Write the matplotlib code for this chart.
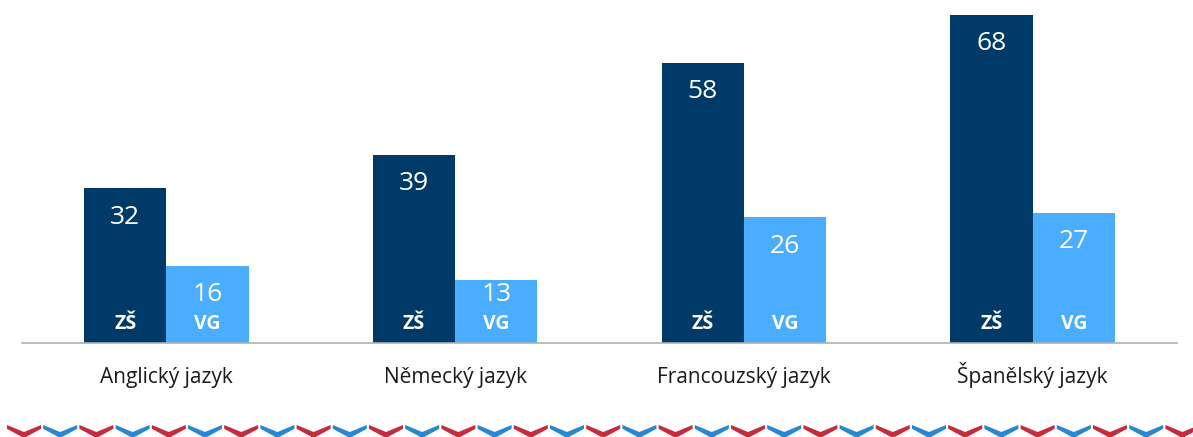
import matplotlib.pyplot as plt
import numpy as np
from matplotlib.patches import Polygon

plt.rcParams['font.family'] = ['Open Sans', 'DejaVu Sans']

categories = ['Anglický jazyk', 'Německý jazyk', 'Francouzský jazyk', 'Španělský jazyk']
zs_values = [32, 39, 58, 68]
vg_values = [16, 13, 26, 27]
series_labels = ['ZŠ', 'VG']

dark_blue = '#003A69'
light_blue = '#4AADFF'

W, H = 1193, 437
fig = plt.figure(figsize=(W / 100, H / 100), dpi=100)
ax = fig.add_axes([22 / W, (H - 343) / H, 1155 / W, 338 / H])

x = np.arange(len(categories))
bw = 0.285
bars_zs = ax.bar(x - bw / 2, zs_values, width=bw, color=dark_blue)
bars_vg = ax.bar(x + bw / 2, vg_values, width=bw, color=light_blue)

ax.set_xlim(-0.5, 3.5)
ax.set_ylim(0, 70)

# value labels near top of each bar (kept clear of the series name), series name near the base
for bars, vals, name in [(bars_zs, zs_values, series_labels[0]), (bars_vg, vg_values, series_labels[1])]:
    for b, v in zip(bars, vals):
        cx = b.get_x() + b.get_width() / 2
        ax.text(cx, max(v - 6.0, 10.0), str(v), ha='center', va='center',
                color='white', fontsize=19)
        ax.annotate(name, (cx, 0), xytext=(0, 14.0), textcoords='offset points',
                    ha='center', va='center', color='white', fontsize=14, fontweight='bold')

# category names, baseline-aligned below the axis
for xi, cat in zip(x, categories):
    ax.annotate(cat, (xi, 0), xytext=(0, -29), textcoords='offset points',
                ha='center', va='baseline', color='#1A1A1A', fontsize=15)

for spine in ['top', 'right', 'left']:
    ax.spines[spine].set_visible(False)
ax.spines['bottom'].set_color('#B0B0B0')
ax.spines['bottom'].set_linewidth(1.2)
ax.set_yticks([])
ax.set_xticks([])

# decorative chevron strip at the bottom
period = 36.2
cw = 34.0
top, mid, thick = 425.0, 432.0, 3.8
k = 0
x0 = 7.0
while x0 < W:
    col = '#C62C3E' if k % 2 == 0 else '#2A86D3'
    pts = [(x0, top), (x0 + cw / 2, mid), (x0 + cw, top),
           (x0 + cw, top + thick), (x0 + cw / 2, 438), (x0, top + thick)]
    pts = [(px / W, (H - py) / H) for px, py in pts]
    fig.patches.append(Polygon(pts, closed=True, transform=fig.transFigure,
                               facecolor=col, edgecolor='none'))
    x0 += period
    k += 1

fig.savefig('out.png', dpi=100)
